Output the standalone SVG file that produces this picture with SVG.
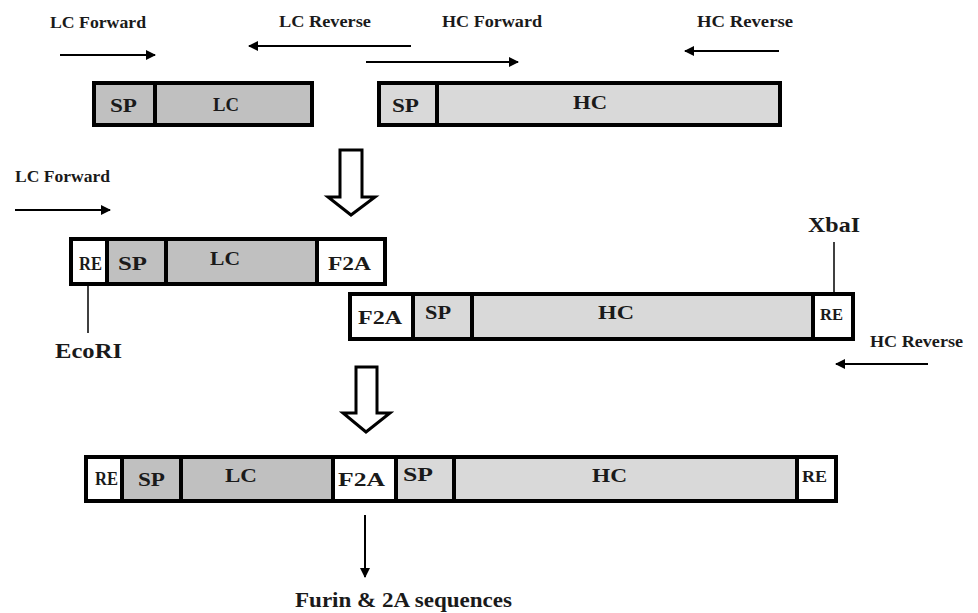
<svg xmlns="http://www.w3.org/2000/svg" width="978" height="613" viewBox="0 0 978 613">
<defs>
<style>
.t{font-family:"Liberation Serif","Times New Roman",serif;font-weight:bold;fill:#1a1a1a}
.lbl{font-size:17px}
.bx{font-size:19px}
.dk{fill:#c0c0c0}
.lt{fill:#d9d9d9}
.wh{fill:#ffffff}
.ol{fill:none;stroke:#000;stroke-width:4}
.dv{stroke:#000;stroke-width:4}
.ar{stroke:#000;stroke-width:2;fill:none}
.ln{stroke:#000;stroke-width:1.5;fill:none}
.big{fill:#fff;stroke:#000;stroke-width:3;stroke-linejoin:miter}
</style>
<marker id="ah" viewBox="0 0 10 10" refX="9" refY="5" markerWidth="6.5" markerHeight="5" orient="auto" markerUnits="strokeWidth">
<path d="M0,0 L10,5 L0,10 Z" fill="#000"/>
</marker>
</defs>
<rect width="978" height="613" fill="#fff"/>

<g id="connectors">
<line class="ar" x1="60" y1="55" x2="155" y2="55" marker-end="url(#ah)"/>
<line class="ar" x1="411" y1="46" x2="249" y2="46" marker-end="url(#ah)"/>
<line class="ar" x1="366" y1="62" x2="518" y2="62" marker-end="url(#ah)"/>
<line class="ar" x1="779" y1="51" x2="685" y2="51" marker-end="url(#ah)"/>
<line class="ar" x1="15" y1="210" x2="110" y2="210" marker-end="url(#ah)"/>
<line class="ar" x1="928" y1="364" x2="836" y2="364" marker-end="url(#ah)"/>
<line class="ar" x1="365" y1="515" x2="365" y2="577" marker-end="url(#ah)"/>
<line class="ln" x1="88" y1="276" x2="88" y2="333"/>
<line class="ln" x1="834" y1="242" x2="834" y2="302"/>
<path class="big" d="M340,150 L362,150 L362,197 L375,197 L351,215 L328,197 L340,197 Z"/>
<path class="big" d="M356,367 L377,367 L377,413 L390,413 L366,432 L343,413 L356,413 Z"/>
</g>

<g id="labels">
<text class="t lbl" x="50" y="28" textLength="96" lengthAdjust="spacingAndGlyphs">LC Forward</text>
<text class="t lbl" x="279" y="27" textLength="92" lengthAdjust="spacingAndGlyphs">LC Reverse</text>
<text class="t lbl" x="442" y="27" textLength="100" lengthAdjust="spacingAndGlyphs">HC Forward</text>
<text class="t lbl" x="697" y="27" textLength="96" lengthAdjust="spacingAndGlyphs">HC Reverse</text>
<text class="t lbl" x="15" y="182" textLength="95" lengthAdjust="spacingAndGlyphs">LC Forward</text>
<text class="t lbl" x="870" y="347" textLength="93" lengthAdjust="spacingAndGlyphs">HC Reverse</text>
<text class="t" x="55" y="358" font-size="22" textLength="67" lengthAdjust="spacingAndGlyphs">EcoRI</text>
<text class="t" x="808" y="232" font-size="21" textLength="52" lengthAdjust="spacingAndGlyphs">XbaI</text>
<text class="t" x="295" y="607" font-size="20" textLength="217" lengthAdjust="spacingAndGlyphs">Furin &amp; 2A sequences</text>
</g>

<g id="lc-top">
<rect class="dk" x="94" y="83" width="218" height="42"/>
<rect class="ol" x="94" y="83" width="218" height="42"/>
<line class="dv" x1="155" y1="83" x2="155" y2="125"/>
<text class="t bx" x="110" y="112" textLength="27" lengthAdjust="spacingAndGlyphs">SP</text>
<text class="t bx" x="213" y="111" textLength="26" lengthAdjust="spacingAndGlyphs">LC</text>
</g>

<g id="hc-top">
<rect class="lt" x="379" y="83" width="401" height="42"/>
<rect class="ol" x="379" y="83" width="401" height="42"/>
<line class="dv" x1="437" y1="83" x2="437" y2="125"/>
<text class="t bx" x="392" y="112" textLength="27" lengthAdjust="spacingAndGlyphs">SP</text>
<text class="t bx" x="573" y="109" textLength="34" lengthAdjust="spacingAndGlyphs">HC</text>
</g>

<g id="lc-mid">
<rect class="wh" x="71" y="239" width="36" height="45"/>
<rect class="dk" x="107" y="239" width="210" height="45"/>
<rect class="wh" x="317" y="239" width="68" height="45"/>
<rect class="ol" x="71" y="239" width="314" height="45"/>
<line class="dv" x1="107" y1="239" x2="107" y2="284"/>
<line class="dv" x1="166" y1="239" x2="166" y2="284"/>
<line class="dv" x1="317" y1="239" x2="317" y2="284"/>
<text class="t bx" x="79" y="270" textLength="23" lengthAdjust="spacingAndGlyphs">RE</text>
<text class="t bx" x="118" y="270" textLength="29" lengthAdjust="spacingAndGlyphs">SP</text>
<text class="t bx" x="210" y="265" textLength="30" lengthAdjust="spacingAndGlyphs">LC</text>
<text class="t bx" x="328" y="270" textLength="43" lengthAdjust="spacingAndGlyphs">F2A</text>
</g>

<g id="hc-mid">
<rect class="wh" x="350" y="294" width="63" height="45"/>
<rect class="lt" x="413" y="294" width="400" height="45"/>
<rect class="wh" x="813" y="294" width="40" height="45"/>
<rect class="ol" x="350" y="294" width="503" height="45"/>
<line class="dv" x1="413" y1="294" x2="413" y2="339"/>
<line class="dv" x1="472" y1="294" x2="472" y2="339"/>
<line class="dv" x1="813" y1="294" x2="813" y2="339"/>
<text class="t bx" x="358" y="324" textLength="44" lengthAdjust="spacingAndGlyphs">F2A</text>
<text class="t bx" x="425" y="319" textLength="26" lengthAdjust="spacingAndGlyphs">SP</text>
<text class="t bx" x="598" y="319" textLength="36" lengthAdjust="spacingAndGlyphs">HC</text>
<text class="t" x="820" y="320" font-size="16" textLength="23" lengthAdjust="spacingAndGlyphs">RE</text>
</g>

<g id="combined">
<rect class="wh" x="86" y="457" width="36" height="44"/>
<rect class="dk" x="122" y="457" width="211" height="44"/>
<rect class="wh" x="333" y="457" width="63" height="44"/>
<rect class="lt" x="396" y="457" width="401" height="44"/>
<rect class="wh" x="797" y="457" width="39" height="44"/>
<rect class="ol" x="86" y="457" width="750" height="44"/>
<line class="dv" x1="122" y1="457" x2="122" y2="501"/>
<line class="dv" x1="181" y1="457" x2="181" y2="501"/>
<line class="dv" x1="333" y1="457" x2="333" y2="501"/>
<line class="dv" x1="396" y1="457" x2="396" y2="501"/>
<line class="dv" x1="454" y1="457" x2="454" y2="501"/>
<line class="dv" x1="797" y1="457" x2="797" y2="501"/>
<text class="t bx" x="95" y="485" textLength="23" lengthAdjust="spacingAndGlyphs">RE</text>
<text class="t bx" x="138" y="486" textLength="27" lengthAdjust="spacingAndGlyphs">SP</text>
<text class="t bx" x="225" y="482" textLength="32" lengthAdjust="spacingAndGlyphs">LC</text>
<text class="t bx" x="338" y="486" textLength="47" lengthAdjust="spacingAndGlyphs">F2A</text>
<text class="t bx" x="403" y="481" textLength="30" lengthAdjust="spacingAndGlyphs">SP</text>
<text class="t bx" x="592" y="482" textLength="35" lengthAdjust="spacingAndGlyphs">HC</text>
<text class="t" x="802" y="482" font-size="16" textLength="25" lengthAdjust="spacingAndGlyphs">RE</text>
</g>
</svg>
